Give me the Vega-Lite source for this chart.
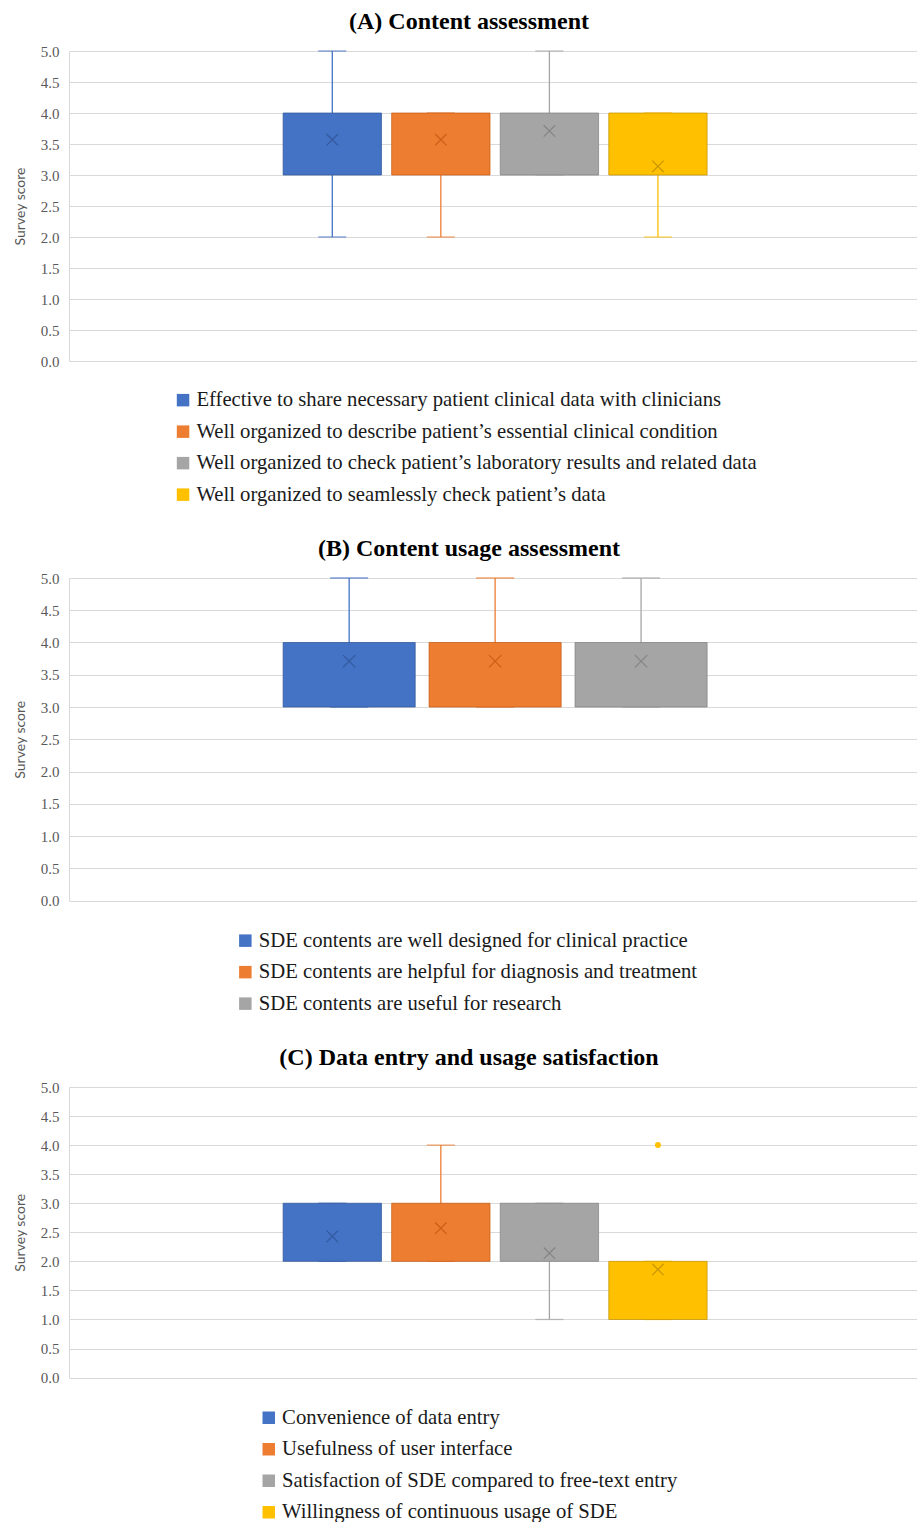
{
  "$schema": "https://vega.github.io/schema/vega-lite/v6.json",
  "background": "white",
  "padding": {"left": 13, "top": 10, "right": 0, "bottom": 0},
  "config": {
    "view": {"stroke": null},
    "font": "Liberation Serif",
    "title": {"font": "Liberation Serif", "fontSize": 24, "fontWeight": "bold", "color": "#000000", "anchor": "middle", "frame": "group", "baseline": "middle", "offset": 10, "dx": -24},
    "axisY": {
      "labelFont": "Liberation Serif", "labelFontSize": 15, "labelColor": "#595959", "labelPadding": 10, "labelOverlap": false,
      "ticks": false, "domainColor": "#D9D9D9", "domainWidth": 1, "grid": true, "gridColor": "#D9D9D9", "gridWidth": 1,
      "titleFont": "Lato", "titleFontSize": 14, "titleFontWeight": "normal", "titleColor": "#595959", "titlePadding": 13
    },
    "legend": {
      "symbolType": "square", "symbolSize": 156, "symbolStrokeWidth": 0,
      "labelFont": "Liberation Serif", "labelFontSize": 20.7, "labelColor": "#1a1a1a", "labelLimit": 900,
      "labelOffset": 3, "rowPadding": 9.5, "padding": 0
    }
  },
  "spacing": 217,
  "bounds": "flush",
  "resolve": {
    "scale": {"color": "independent", "fill": "independent", "stroke": "independent", "xOffset": "independent"},
    "legend": {"color": "independent", "fill": "independent", "stroke": "independent"}
  },
  "vconcat": [
    {
      "title": "(A) Content assessment",
      "width": 848,
      "height": 310,
      "data": {"values": [
        {"series": "Effective to share necessary patient clinical data with clinicians", "lo": 2, "q1": 3, "q3": 4, "hi": 5, "mean": 3.57},
        {"series": "Well organized to describe patient’s essential clinical condition", "lo": 2, "q1": 3, "q3": 4, "hi": 4, "mean": 3.57},
        {"series": "Well organized to check patient’s laboratory results and related data", "lo": 3, "q1": 3, "q3": 4, "hi": 5, "mean": 3.71},
        {"series": "Well organized to seamlessly check patient’s data", "lo": 2, "q1": 3, "q3": 4, "hi": 4, "mean": 3.14}
      ]},
      "encoding": {
        "x": {"datum": "all", "type": "nominal", "axis": null, "scale": {"paddingInner": 0, "paddingOuter": 0.5, "align": 0.505}},
        "xOffset": {"field": "series", "type": "nominal", "sort": null, "scale": {"paddingInner": 0.094, "paddingOuter": 0}}
      },
      "layer": [
        {
          "mark": {"type": "rule", "strokeWidth": 1.3},
          "encoding": {
            "y": {"field": "lo", "type": "quantitative", "scale": {"domain": [0, 5], "nice": false},
                  "axis": {"title": "Survey score", "tickCount": 10, "tickMinStep": 0.5, "format": ".1f"}},
            "y2": {"field": "hi"},
            "color": {"field": "series", "type": "nominal", "sort": null, "legend": null,
                      "scale": {"range": ["#4472C4", "#ED7D31", "#A5A5A5", "#FFC000"]}}
          }
        },
        {
          "mark": {"type": "tick", "size": 28, "thickness": 1.3},
          "encoding": {
            "y": {"field": "lo", "type": "quantitative",
                  "axis": {"title": "Survey score", "tickCount": 10, "tickMinStep": 0.5, "format": ".1f"}},
            "color": {"field": "series", "type": "nominal", "sort": null, "legend": null}
          }
        },
        {
          "mark": {"type": "tick", "size": 28, "thickness": 1.3},
          "encoding": {
            "y": {"field": "hi", "type": "quantitative",
                  "axis": {"title": "Survey score", "tickCount": 10, "tickMinStep": 0.5, "format": ".1f"}},
            "color": {"field": "series", "type": "nominal", "sort": null, "legend": null}
          }
        },
        {
          "mark": {"type": "bar", "strokeWidth": 1, "strokeOpacity": 0.7},
          "encoding": {
            "y": {"field": "q1", "type": "quantitative",
                  "axis": {"title": "Survey score", "tickCount": 10, "tickMinStep": 0.5, "format": ".1f"}},
            "y2": {"field": "q3"},
            "fill": {"field": "series", "type": "nominal", "sort": null,
                     "scale": {"range": ["#4472C4", "#ED7D31", "#A5A5A5", "#FFC000"]},
                     "legend": {"title": null, "orient": "none", "legendX": 103.7, "legendY": 338.8}},
            "stroke": {"field": "series", "type": "nominal", "sort": null, "legend": null,
                       "scale": {"range": ["#2F5597", "#C55A11", "#7F7F7F", "#BF9000"]}}
          }
        },
        {
          "mark": {"type": "point", "shape": "M-1,-1L1,1M1,-1L-1,1", "filled": false, "size": 130, "strokeWidth": 1.2, "opacity": 0.85},
          "encoding": {
            "y": {"field": "mean", "type": "quantitative",
                  "axis": {"title": "Survey score", "tickCount": 10, "tickMinStep": 0.5, "format": ".1f"}},
            "stroke": {"field": "series", "type": "nominal", "sort": null, "legend": null}
          }
        }
      ]
    },
    {
      "spacing": 186,
      "bounds": "flush",
      "resolve": {
        "scale": {"color": "independent", "fill": "independent", "stroke": "independent", "xOffset": "independent"},
        "legend": {"color": "independent", "fill": "independent", "stroke": "independent"}
      },
      "vconcat": [
        {
          "title": "(B) Content usage assessment",
          "width": 848,
          "height": 322.5,
          "data": {"values": [
            {"series": "SDE contents are well designed for clinical practice", "lo": 3, "q1": 3, "q3": 4, "hi": 5, "mean": 3.71},
            {"series": "SDE contents are helpful for diagnosis and treatment", "lo": 3, "q1": 3, "q3": 4, "hi": 5, "mean": 3.71},
            {"series": "SDE contents are useful for research", "lo": 3, "q1": 3, "q3": 4, "hi": 5, "mean": 3.71}
          ]},
          "encoding": {
            "x": {"datum": "all", "type": "nominal", "axis": null, "scale": {"paddingInner": 0, "paddingOuter": 0.5, "align": 0.505}},
            "xOffset": {"field": "series", "type": "nominal", "sort": null, "scale": {"paddingInner": 0.095, "paddingOuter": 0}}
          },
          "layer": [
            {
              "mark": {"type": "rule", "strokeWidth": 1.3},
              "encoding": {
                "y": {"field": "lo", "type": "quantitative", "scale": {"domain": [0, 5], "nice": false},
                      "axis": {"title": "Survey score", "tickCount": 10, "tickMinStep": 0.5, "format": ".1f"}},
                "y2": {"field": "hi"},
                "color": {"field": "series", "type": "nominal", "sort": null, "legend": null,
                          "scale": {"range": ["#4472C4", "#ED7D31", "#A5A5A5"]}}
              }
            },
            {
              "mark": {"type": "tick", "size": 38, "thickness": 1.3},
              "encoding": {
                "y": {"field": "lo", "type": "quantitative",
                      "axis": {"title": "Survey score", "tickCount": 10, "tickMinStep": 0.5, "format": ".1f"}},
                "color": {"field": "series", "type": "nominal", "sort": null, "legend": null}
              }
            },
            {
              "mark": {"type": "tick", "size": 38, "thickness": 1.3},
              "encoding": {
                "y": {"field": "hi", "type": "quantitative",
                      "axis": {"title": "Survey score", "tickCount": 10, "tickMinStep": 0.5, "format": ".1f"}},
                "color": {"field": "series", "type": "nominal", "sort": null, "legend": null}
              }
            },
            {
              "mark": {"type": "bar", "strokeWidth": 1, "strokeOpacity": 0.7},
              "encoding": {
                "y": {"field": "q1", "type": "quantitative",
                      "axis": {"title": "Survey score", "tickCount": 10, "tickMinStep": 0.5, "format": ".1f"}},
                "y2": {"field": "q3"},
                "fill": {"field": "series", "type": "nominal", "sort": null,
                         "scale": {"range": ["#4472C4", "#ED7D31", "#A5A5A5"]},
                         "legend": {"title": null, "orient": "none", "legendX": 166, "legendY": 352.3}},
                "stroke": {"field": "series", "type": "nominal", "sort": null, "legend": null,
                           "scale": {"range": ["#2F5597", "#C55A11", "#7F7F7F"]}}
              }
            },
            {
              "mark": {"type": "point", "shape": "M-1,-1L1,1M1,-1L-1,1", "filled": false, "size": 150, "strokeWidth": 1.2, "opacity": 0.85},
              "encoding": {
                "y": {"field": "mean", "type": "quantitative",
                      "axis": {"title": "Survey score", "tickCount": 10, "tickMinStep": 0.5, "format": ".1f"}},
                "stroke": {"field": "series", "type": "nominal", "sort": null, "legend": null}
              }
            }
          ]
        },
        {
          "title": "(C) Data entry and usage satisfaction",
          "width": 848,
          "height": 290.6,
          "data": {"values": [
            {"series": "Convenience of data entry", "lo": 2, "q1": 2, "q3": 3, "hi": 3, "mean": 2.43},
            {"series": "Usefulness of user interface", "lo": 2, "q1": 2, "q3": 3, "hi": 4, "mean": 2.57},
            {"series": "Satisfaction of SDE compared to free-text entry", "lo": 1, "q1": 2, "q3": 3, "hi": 3, "mean": 2.14},
            {"series": "Willingness of continuous usage of SDE", "lo": 1, "q1": 1, "q3": 2, "hi": 2, "mean": 1.86}
          ]},
          "encoding": {
            "x": {"datum": "all", "type": "nominal", "axis": null, "scale": {"paddingInner": 0, "paddingOuter": 0.5, "align": 0.505}},
            "xOffset": {"field": "series", "type": "nominal", "sort": null, "scale": {"paddingInner": 0.094, "paddingOuter": 0}}
          },
          "layer": [
            {
              "mark": {"type": "rule", "strokeWidth": 1.3},
              "encoding": {
                "y": {"field": "lo", "type": "quantitative", "scale": {"domain": [0, 5], "nice": false},
                      "axis": {"title": "Survey score", "tickCount": 10, "tickMinStep": 0.5, "format": ".1f"}},
                "y2": {"field": "hi"},
                "color": {"field": "series", "type": "nominal", "sort": null, "legend": null,
                          "scale": {"range": ["#4472C4", "#ED7D31", "#A5A5A5", "#FFC000"]}}
              }
            },
            {
              "mark": {"type": "tick", "size": 28, "thickness": 1.3},
              "encoding": {
                "y": {"field": "lo", "type": "quantitative",
                      "axis": {"title": "Survey score", "tickCount": 10, "tickMinStep": 0.5, "format": ".1f"}},
                "color": {"field": "series", "type": "nominal", "sort": null, "legend": null}
              }
            },
            {
              "mark": {"type": "tick", "size": 28, "thickness": 1.3},
              "encoding": {
                "y": {"field": "hi", "type": "quantitative",
                      "axis": {"title": "Survey score", "tickCount": 10, "tickMinStep": 0.5, "format": ".1f"}},
                "color": {"field": "series", "type": "nominal", "sort": null, "legend": null}
              }
            },
            {
              "mark": {"type": "bar", "strokeWidth": 1, "strokeOpacity": 0.7},
              "encoding": {
                "y": {"field": "q1", "type": "quantitative",
                      "axis": {"title": "Survey score", "tickCount": 10, "tickMinStep": 0.5, "format": ".1f"}},
                "y2": {"field": "q3"},
                "fill": {"field": "series", "type": "nominal", "sort": null,
                         "scale": {"range": ["#4472C4", "#ED7D31", "#A5A5A5", "#FFC000"]},
                         "legend": {"title": null, "orient": "none", "legendX": 189.4, "legendY": 320.4}},
                "stroke": {"field": "series", "type": "nominal", "sort": null, "legend": null,
                           "scale": {"range": ["#2F5597", "#C55A11", "#7F7F7F", "#BF9000"]}}
              }
            },
            {
              "mark": {"type": "point", "shape": "M-1,-1L1,1M1,-1L-1,1", "filled": false, "size": 130, "strokeWidth": 1.2, "opacity": 0.85},
              "encoding": {
                "y": {"field": "mean", "type": "quantitative",
                      "axis": {"title": "Survey score", "tickCount": 10, "tickMinStep": 0.5, "format": ".1f"}},
                "stroke": {"field": "series", "type": "nominal", "sort": null, "legend": null}
              }
            },
            {
              "data": {"values": [
                {"series": "Willingness of continuous usage of SDE", "value": 4}
              ]},
              "mark": {"type": "point", "filled": true, "size": 36, "opacity": 1},
              "encoding": {
                "y": {"field": "value", "type": "quantitative",
                      "axis": {"title": "Survey score", "tickCount": 10, "tickMinStep": 0.5, "format": ".1f"}},
                "color": {"field": "series", "type": "nominal", "sort": null, "legend": null}
              }
            }
          ]
        }
      ]
    }
  ]
}
